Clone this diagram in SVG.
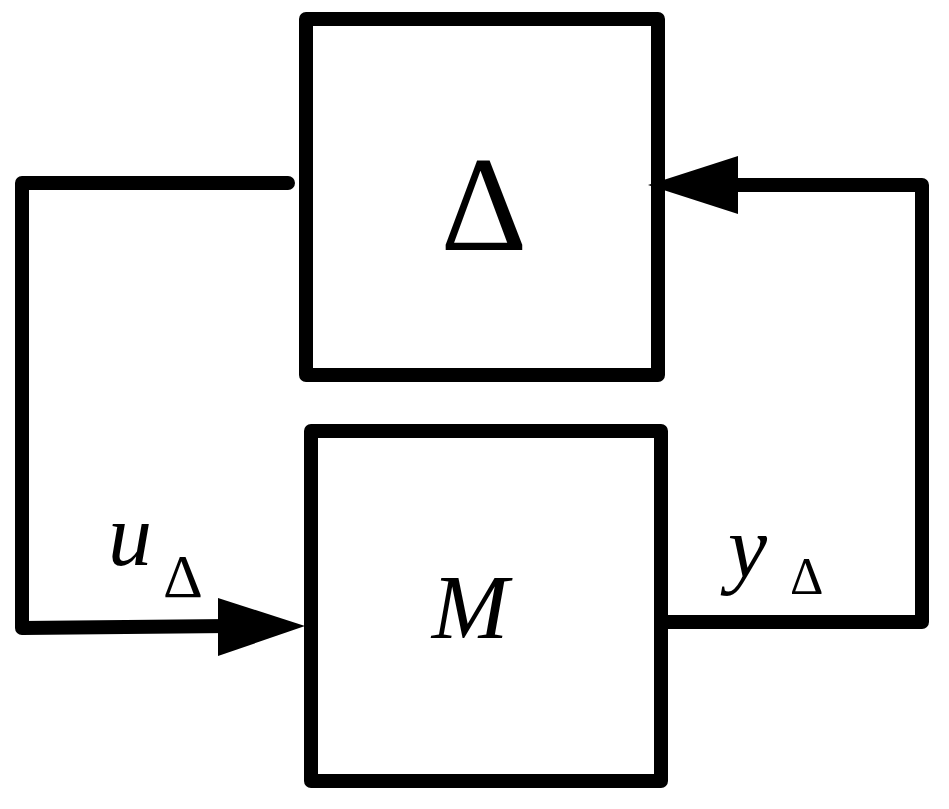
<svg xmlns="http://www.w3.org/2000/svg" width="949" height="809" viewBox="0 0 949 809">
<style>
.b{fill:none;stroke:#000;stroke-width:14;stroke-linejoin:round;stroke-linecap:round}
.t{font-family:"Liberation Serif",serif;fill:#000}
</style>
<rect width="949" height="809" fill="#fff"/>
<g id="delta"><rect class="b" x="306" y="19" width="352" height="356"/><text class="t" x="484" y="250" font-size="135" text-anchor="middle">Δ</text></g>
<g id="m"><rect class="b" x="311" y="431" width="350" height="350"/><text class="t" x="470" y="638" font-size="92" font-style="italic" text-anchor="middle">M</text></g>
<g id="connectors">
<polyline class="b" points="288,183 22,183 22,628 230,626"/>
<polygon points="305,626 218,598 218,656"/>
<polyline class="b" points="664,622 922,622 922,185 730,185"/>
<polygon points="648,185 738,156 738,214"/>
</g>
<g id="labels">
<text class="t" x="108" y="565" font-size="88" font-style="italic">u</text>
<text class="t" x="163" y="597" font-size="62">Δ</text>
<text class="t" x="728" y="577" font-size="88" font-style="italic">y</text>
<text class="t" x="790" y="594" font-size="52">Δ</text>
</g>
</svg>
